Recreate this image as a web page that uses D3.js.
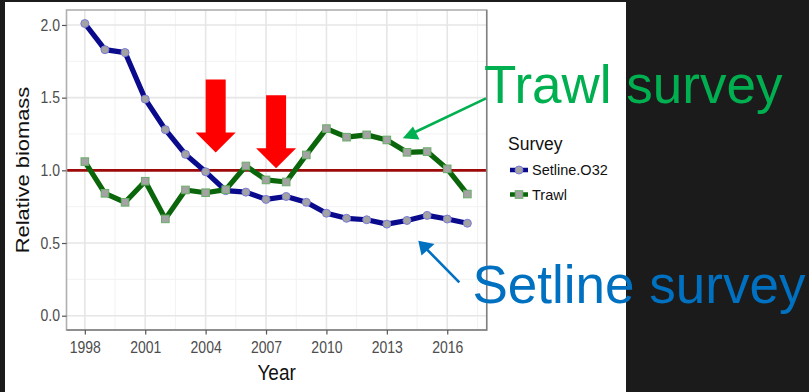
<!DOCTYPE html>
<html>
<head>
<meta charset="utf-8">
<script src="https://cdn.jsdelivr.net/npm/d3@7"></script>
<style>
  html, body { margin: 0; padding: 0; background: #1b1b1b; }
  svg { display: block; }
  text { font-family: "Liberation Sans", Arial, sans-serif; }
</style>
</head>
<body>
<svg id="chart" width="809" height="392"></svg>
<script>
// Survey years
const years = [1998, 1999, 2000, 2001, 2002, 2003, 2004, 2005, 2006, 2007,
               2008, 2009, 2010, 2011, 2012, 2013, 2014, 2015, 2016, 2017];
// Relative biomass, setline survey (O32)
const setline = [2.01, 1.83, 1.81, 1.49, 1.28, 1.11, 0.99, 0.86, 0.85, 0.80,
                 0.82, 0.78, 0.705, 0.67, 0.66, 0.63, 0.655, 0.69, 0.665, 0.636];
// Relative biomass, trawl survey
const trawl = [1.06, 0.842, 0.78, 0.925, 0.666, 0.865, 0.846, 0.867, 1.03, 0.934,
               0.92, 1.106, 1.287, 1.228, 1.244, 1.209, 1.124, 1.129, 1.01, 0.837];
const seriesNames = ["Setline.O32", "Trawl"];
const xTicks = [1998, 2001, 2004, 2007, 2010, 2013, 2016];
const yTicks = [0.0, 0.5, 1.0, 1.5, 2.0];
const referenceLevel = 1.0;
// Years where the arrows point
const arrowYears = [2004.5, 2007.5];

const svg = d3.select("#chart");
const W = 809, H = 392;

// white slide area behind the figure
svg.append("rect").attr("x", 5).attr("y", 2).attr("width", 621).attr("height", H - 2).attr("fill", "#ffffff");

const panel = { left: 66.5, right: 486.7, top: 10, bottom: 330 };
const x = d3.scaleLinear().domain([1997.09, 2017.96]).range([panel.left, panel.right]);
const y = d3.scaleLinear().domain([-0.0984, 2.103]).range([panel.bottom, panel.top]);

const g = svg.append("g");

// grid: minor then major
const xMinor = xTicks.slice(0, -1).map(d => d + 1.5).concat([2017.5]);
const yMinor = [0.25, 0.75, 1.25, 1.75];
g.selectAll("line.xminor").data(xMinor).join("line")
  .attr("x1", d => x(d)).attr("x2", d => x(d)).attr("y1", panel.top).attr("y2", panel.bottom)
  .attr("stroke", "#f2f2f2").attr("stroke-width", 1);
g.selectAll("line.yminor").data(yMinor).join("line")
  .attr("y1", d => y(d)).attr("y2", d => y(d)).attr("x1", panel.left).attr("x2", panel.right)
  .attr("stroke", "#f2f2f2").attr("stroke-width", 1);
g.selectAll("line.xmajor").data(xTicks).join("line")
  .attr("x1", d => x(d)).attr("x2", d => x(d)).attr("y1", panel.top).attr("y2", panel.bottom)
  .attr("stroke", "#e6e6e6").attr("stroke-width", 1.6);
g.selectAll("line.ymajor").data(yTicks).join("line")
  .attr("y1", d => y(d)).attr("y2", d => y(d)).attr("x1", panel.left).attr("x2", panel.right)
  .attr("stroke", "#e6e6e6").attr("stroke-width", 1.6);

// reference line at 1.0
g.append("line")
  .attr("x1", panel.left).attr("x2", panel.right)
  .attr("y1", y(referenceLevel)).attr("y2", y(referenceLevel))
  .attr("stroke", "#9e0a0a").attr("stroke-width", 2.6);

const series = [
  { name: seriesNames[0], values: setline, line: "#0a0a8c", fill: "#a3a3a3", edge: "#7a7ad8", shape: "circle" },
  { name: seriesNames[1], values: trawl, line: "#0b650b", fill: "#a3a3a3", edge: "#68ad68", shape: "square" }
];

const lineGen = d3.line().x((d, i) => x(years[i])).y(d => y(d));
series.forEach(s => {
  g.append("path").datum(s.values)
    .attr("d", lineGen)
    .attr("fill", "none").attr("stroke", s.line).attr("stroke-width", 5.2)
    .attr("stroke-linejoin", "round").attr("stroke-linecap", "round");
});
series.forEach(s => {
  const pts = g.append("g");
  if (s.shape === "circle") {
    pts.selectAll("circle").data(s.values).join("circle")
      .attr("cx", (d, i) => x(years[i])).attr("cy", d => y(d)).attr("r", 4)
      .attr("fill", s.fill).attr("stroke", s.edge).attr("stroke-width", 1);
  } else {
    pts.selectAll("rect").data(s.values).join("rect")
      .attr("x", (d, i) => x(years[i]) - 3.8).attr("y", d => y(d) - 3.8)
      .attr("width", 7.6).attr("height", 7.6)
      .attr("fill", s.fill).attr("stroke", s.edge).attr("stroke-width", 1);
  }
});

// panel border
g.append("rect")
  .attr("x", panel.left).attr("y", panel.top)
  .attr("width", panel.right - panel.left).attr("height", panel.bottom - panel.top)
  .attr("fill", "none").attr("stroke", "#b0b0b0").attr("stroke-width", 1.6);
g.append("path")
  .attr("d", `M${panel.left},${panel.bottom}H${panel.right}V${panel.top}`)
  .attr("fill", "none").attr("stroke", "#808080").attr("stroke-width", 1.4);

// axes
const stretch = 1.15;
const xAxis = g.append("g").attr("transform", `translate(0,${panel.bottom})`)
  .call(d3.axisBottom(x).tickValues(xTicks).tickFormat(d3.format("d")).tickSize(4.5).tickSizeOuter(0));
xAxis.select(".domain").remove();
xAxis.selectAll(".tick line").attr("stroke", "#555").attr("stroke-width", 1.2);
xAxis.selectAll(".tick text")
  .attr("y", 20.3).attr("dy", 0)
  .attr("transform", `scale(1,${stretch})`)
  .attr("fill", "#4d4d4d").attr("font-size", 14);

const yAxis = g.append("g").attr("transform", `translate(${panel.left},0)`)
  .call(d3.axisLeft(y).tickValues(yTicks).tickFormat(d3.format(".1f")).tickSize(4.5).tickPadding(2).tickSizeOuter(0));
yAxis.select(".domain").remove();
yAxis.selectAll(".tick line").attr("stroke", "#555").attr("stroke-width", 1.2);
yAxis.selectAll(".tick text")
  .attr("transform", `scale(1,${stretch})`)
  .attr("fill", "#4d4d4d").attr("font-size", 14);

// axis titles
svg.append("text")
  .attr("transform", `translate(${(panel.left + panel.right) / 2},380) scale(1,${stretch})`)
  .attr("text-anchor", "middle").attr("font-size", 19).attr("fill", "#111")
  .text("Year");
svg.append("text")
  .attr("transform", `translate(28.5,${(panel.top + panel.bottom) / 2}) scale(1,${stretch}) rotate(-90)`)
  .attr("text-anchor", "middle").attr("font-size", 19).attr("fill", "#111")
  .text("Relative biomass");

// legend
const legend = svg.append("g").attr("transform", "translate(508,0)");
legend.append("text").attr("x", 0).attr("y", 150).attr("font-size", 17.5).attr("fill", "#111").text("Survey");
series.forEach((s, i) => {
  const cy = 170 + i * 24.5;
  legend.append("line").attr("x1", 2).attr("x2", 20).attr("y1", cy).attr("y2", cy)
    .attr("stroke", s.line).attr("stroke-width", 4.5);
  if (s.shape === "circle") {
    legend.append("circle").attr("cx", 11).attr("cy", cy).attr("r", 4)
      .attr("fill", s.fill).attr("stroke", s.edge).attr("stroke-width", 1);
  } else {
    legend.append("rect").attr("x", 7.2).attr("y", cy - 3.8).attr("width", 7.6).attr("height", 7.6)
      .attr("fill", s.fill).attr("stroke", s.edge).attr("stroke-width", 1);
  }
  legend.append("text").attr("x", 24).attr("y", cy + 5.3).attr("font-size", 14.5).attr("fill", "#111").text(s.name);
});

// red arrows pointing at the two years
const arrowTip = [1.122, 1.014];
arrowYears.forEach((yr, i) => {
  const cx = x(yr), tipY = y(arrowTip[i]);
  const top = tipY - 73, headY = tipY - 20;
  svg.append("path")
    .attr("d", `M${cx - 10},${top}H${cx + 10}V${headY}H${cx + 20}L${cx},${tipY}L${cx - 20},${headY}H${cx - 10}Z`)
    .attr("fill", "#ff0000");
});

// callout arrows and labels
const trawlColor = "#00b050", setlineColor = "#0070c0";
svg.append("line").attr("x1", 486).attr("y1", 98.3).attr("x2", 410).attr("y2", 134.5)
  .attr("stroke", trawlColor).attr("stroke-width", 2.6);
svg.append("path").attr("d", "M402.7,138.3L413,126.5L419.5,139.5Z").attr("fill", trawlColor);
svg.append("line").attr("x1", 459.3).attr("y1", 282.3).attr("x2", 425).attr("y2", 247.5)
  .attr("stroke", setlineColor).attr("stroke-width", 2.6);
svg.append("path").attr("d", "M418.3,240.7L421.5,255.5L434.5,244Z").attr("fill", setlineColor);

svg.append("text").attr("x", 484).attr("y", 103.3).attr("font-size", 53).attr("fill", trawlColor).text("Trawl survey");
svg.append("text").attr("x", 472.5).attr("y", 303.3).attr("font-size", 53).attr("fill", setlineColor).text("Setline survey");
</script>
</body>
</html>
